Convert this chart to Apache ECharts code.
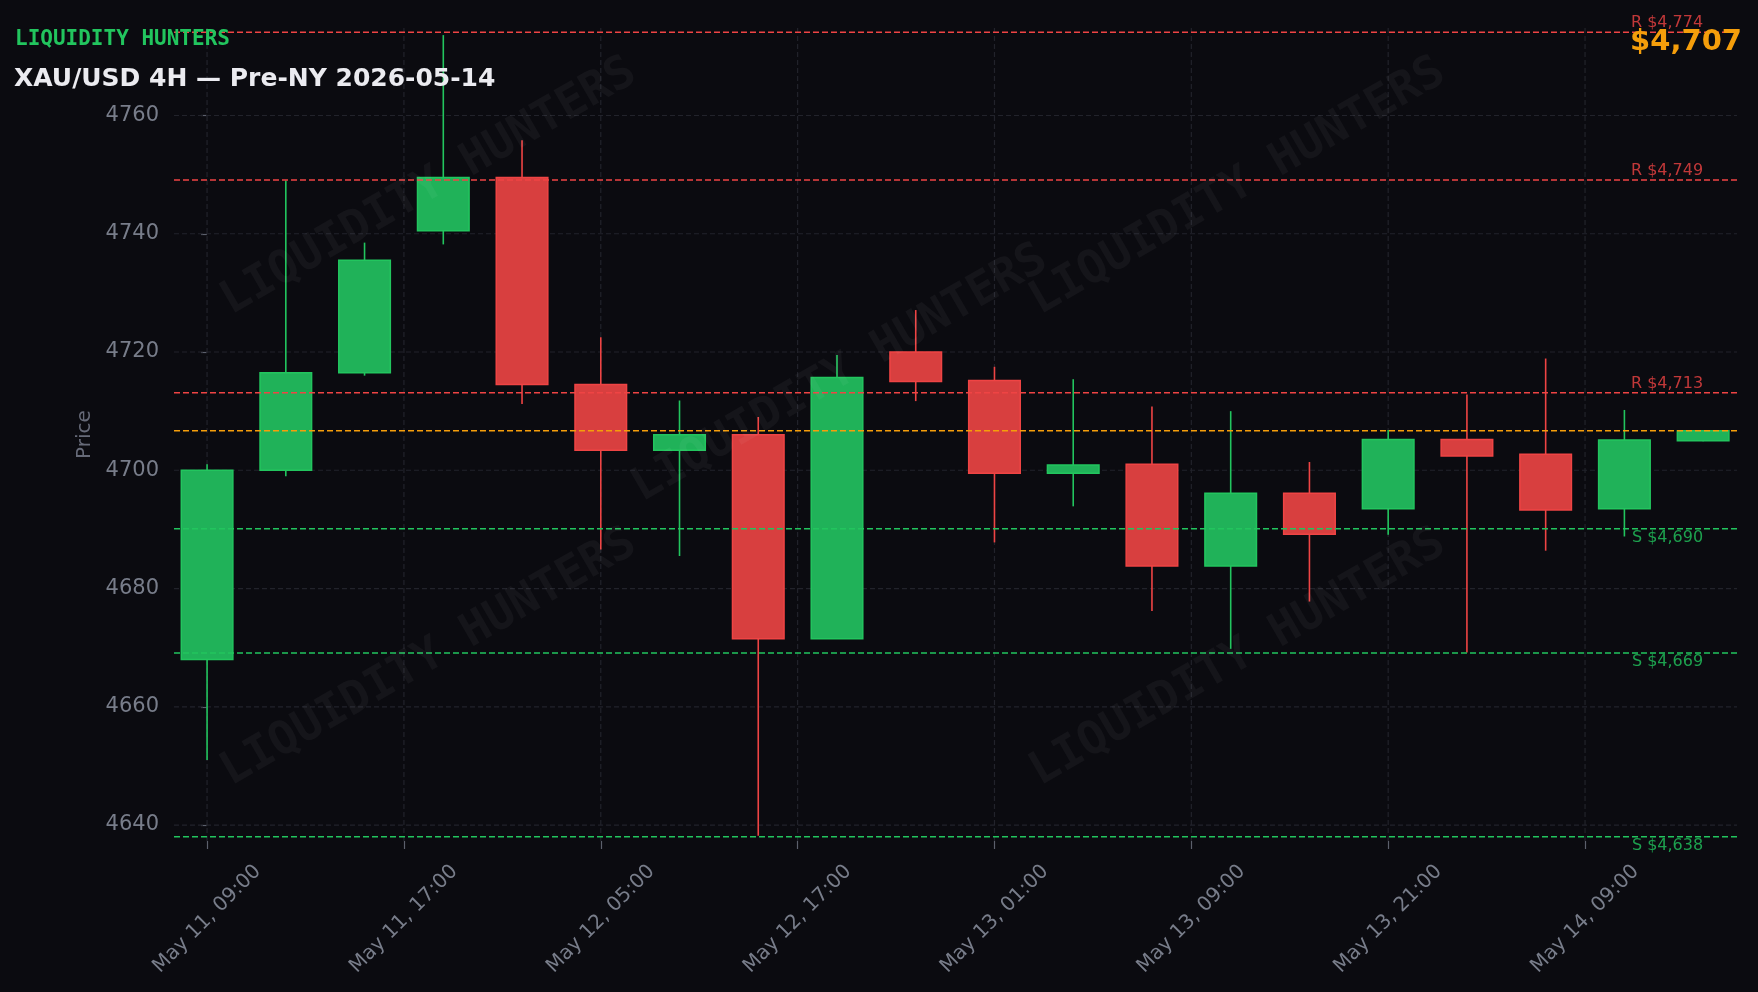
<!DOCTYPE html>
<html>
<head>
<meta charset="utf-8">
<script src="https://cdn.jsdelivr.net/npm/echarts@6/dist/echarts.min.js"></script>
<style>
html,body{margin:0;padding:0;background:#0b0b10;}
#chart{width:1758px;height:992px;}
</style>
</head>
<body>
<div id="chart"></div>
<script>
// ---- data ----
const times = ['May 11, 09:00','May 11, 13:00','May 11, 17:00','May 11, 21:00','May 12, 01:00','May 12, 05:00','May 12, 09:00','May 12, 13:00','May 12, 17:00','May 12, 21:00','May 13, 01:00','May 13, 05:00','May 13, 09:00','May 13, 13:00','May 13, 17:00','May 13, 21:00','May 14, 01:00','May 14, 05:00','May 14, 09:00','May 14, 13:00'];
const opens  = [4668, 4700, 4716.5, 4740.5, 4749.5, 4714.5, 4703.4, 4706, 4671.5, 4720, 4715.2, 4699.5, 4701, 4683.8, 4696.1, 4693.5, 4705.2, 4702.7, 4693.5, 4705];
const closes = [4700, 4716.5, 4735.5, 4749.5, 4714.5, 4703.4, 4706, 4671.5, 4715.7, 4715, 4699.5, 4700.9, 4683.8, 4696.1, 4689.2, 4705.2, 4702.4, 4693.3, 4705.1, 4706.7];
const highs  = [4701, 4749, 4738.5, 4773.6, 4755.8, 4722.5, 4711.8, 4709, 4719.5, 4727.1, 4717.5, 4715.4, 4710.8, 4710, 4701.4, 4706.8, 4712.8, 4718.9, 4710.2, 4706.7];
const lows   = [4651, 4699, 4716, 4738.2, 4711.2, 4686.6, 4685.5, 4638.2, 4671.5, 4711.7, 4687.8, 4693.9, 4676.2, 4669.8, 4677.8, 4689.1, 4669.2, 4686.4, 4688.8, 4704.9];

const levelValues = [4774.1, 4749.1, 4713.1, 4706.7, 4690.1, 4669.1, 4638.0];
const levelKinds  = ['R', 'R', 'R', 'P', 'S', 'S', 'S'];

const yTicks = [4640, 4660, 4680, 4700, 4720, 4740, 4760];
const xTickPos = [0, 2.5, 5, 7.5, 10, 12.5, 15, 17.5];
const xTickLabels = ['May 11, 09:00','May 11, 17:00','May 12, 05:00','May 12, 17:00','May 13, 01:00','May 13, 09:00','May 13, 21:00','May 14, 09:00'];

const brand = 'LIQUIDITY HUNTERS';
const titleText = 'XAU/USD 4H \u2014 Pre-NY 2026-05-14';

// ---- styles ----
const GREEN = '#22c55e', GREEN_FILL = '#20b259';
const RED = '#ef4444', RED_FILL = '#d83f3f';
const ORANGE = '#f59e0b';
const GRID = '#22232b';
const LABEL = '#787d8a';
const FONT = 'DejaVu Sans';

const candleData = opens.map((o, i) => [i, o, closes[i], lows[i], highs[i]]);
const lastIdx = opens.length - 1;
const lastPrice = closes[lastIdx];
const fmt = v => '$' + Math.round(v).toLocaleString('en-US');

const chart = echarts.init(document.getElementById('chart'), null, {renderer: 'canvas'});

const WM_STYLE = {text: brand, fill: 'rgba(255,255,255,0.045)', font: 'bold 46px "DejaVu Sans Mono"', align: 'center', verticalAlign: 'middle'};
const wm = (x, y) => ({type: 'text', x: x, y: y, rotation: Math.PI / 6, z: 40, silent: true, style: Object.assign({}, WM_STYLE)});

const option = {
  backgroundColor: '#0b0b10',
  animation: false,
  grid: {left: 174, right: 21, top: 28, bottom: 151, containLabel: false},
  xAxis: {
    type: 'value', min: -0.42, max: 19.43,
    axisLine: {show: false},
    splitLine: {show: false},
    axisTick: {show: true, customValues: xTickPos, length: 8, lineStyle: {color: '#5c606c', width: 1.2}},
    axisLabel: {
      customValues: xTickPos,
      formatter: v => { const k = xTickPos.indexOf(v); return k >= 0 ? xTickLabels[k] : ''; },
      rotate: 45, align: 'center', verticalAlign: 'middle', margin: 78,
      color: LABEL, fontSize: 20, fontFamily: FONT
    }
  },
  yAxis: {
    type: 'value', min: 4637.3, max: 4774.8, scale: true,
    name: 'Price', nameLocation: 'middle', nameGap: 76, nameRotate: 90,
    nameTextStyle: {color: '#666a78', fontSize: 20, fontFamily: FONT},
    axisLine: {show: false},
    splitLine: {show: false},
    axisTick: {show: true, customValues: yTicks, length: 6, lineStyle: {color: '#5c606c', width: 1.2}},
    axisLabel: {customValues: yTicks, formatter: v => String(v), margin: 15, color: LABEL, fontSize: 21, fontFamily: FONT}
  },
  series: [
    { // grid lines
      type: 'custom', z: 1, silent: true,
      data: yTicks.map(v => [0, v, 0]).concat(xTickPos.map(v => [v, 4700, 1])),
      encode: {x: 0, y: 1},
      renderItem: function (params, api) {
        const cs = params.coordSys;
        const p = api.coord([api.value(0), api.value(1)]);
        const vertical = api.value(2) === 1;
        const shape = vertical
          ? {x1: p[0], y1: cs.y, x2: p[0], y2: cs.y + cs.height}
          : {x1: cs.x, y1: p[1], x2: cs.x + cs.width, y2: p[1]};
        return {type: 'line', shape: shape, style: {stroke: GRID, lineWidth: 1.2, lineDash: [5, 3]}};
      }
    },
    { // candles
      type: 'custom', z: 2, silent: true,
      data: candleData,
      encode: {x: 0, y: [1, 2, 3, 4]},
      renderItem: function (params, api) {
        const x = api.value(0), o = api.value(1), c = api.value(2), l = api.value(3), h = api.value(4);
        const pO = api.coord([x, o]), pC = api.coord([x, c]), pL = api.coord([x, l]), pH = api.coord([x, h]);
        const w = api.size([0.655, 0])[0];
        const up = c >= o;
        const top = Math.min(pO[1], pC[1]), bot = Math.max(pO[1], pC[1]);
        return {type: 'group', children: [
          {type: 'line', shape: {x1: pH[0], y1: pH[1], x2: pL[0], y2: pL[1]}, style: {stroke: up ? GREEN : RED, lineWidth: 1.6}},
          {type: 'rect', shape: {x: pO[0] - w / 2, y: top, width: w, height: Math.max(bot - top, 1)},
           style: {fill: up ? GREEN_FILL : RED_FILL, stroke: up ? GREEN : RED, lineWidth: 1.5}}
        ]};
      }
    },
    { // levels
      type: 'custom', z: 3, silent: true,
      data: levelValues.map((v, i) => [lastIdx, v, i]),
      encode: {x: 0, y: 1},
      renderItem: function (params, api) {
        const cs = params.coordSys;
        const v = api.value(1);
        const kind = levelKinds[api.value(2)];
        const p = api.coord([api.value(0), v]);
        const col = kind === 'R' ? RED : kind === 'S' ? GREEN : ORANGE;
        const children = [
          {type: 'line', shape: {x1: cs.x, y1: p[1], x2: cs.x + cs.width, y2: p[1]},
           style: {stroke: col, lineWidth: 1.5, lineDash: [6, 3]}}
        ];
        if (kind !== 'P') {
          children.push({type: 'text', x: p[0], y: kind === 'R' ? p[1] - 1 : p[1] + 1,
            style: {text: kind + ' ' + fmt(v), fill: kind === 'R' ? 'rgba(239,68,68,0.8)' : 'rgba(34,197,94,0.8)',
              font: '16px "DejaVu Sans"', align: 'right', verticalAlign: kind === 'R' ? 'bottom' : 'top'}});
        }
        return {type: 'group', children: children};
      }
    }
  ],
  graphic: [
    {type: 'text', left: 15, top: 29, z: 50, style: {text: brand, fill: GREEN, font: 'bold 21px "DejaVu Sans Mono"'}},
    {type: 'text', left: 14, top: 67, z: 50, style: {text: titleText, fill: '#ebebf0', font: 'bold 25px "DejaVu Sans"'}},
    {type: 'text', right: 16, top: 28, z: 50, style: {text: fmt(lastPrice), fill: ORANGE, font: 'bold 29px "DejaVu Sans"'}},
    wm(429, 187), wm(1238, 187), wm(840, 374), wm(429, 658), wm(1238, 658)
  ]
};
chart.setOption(option);
</script>
</body>
</html>
